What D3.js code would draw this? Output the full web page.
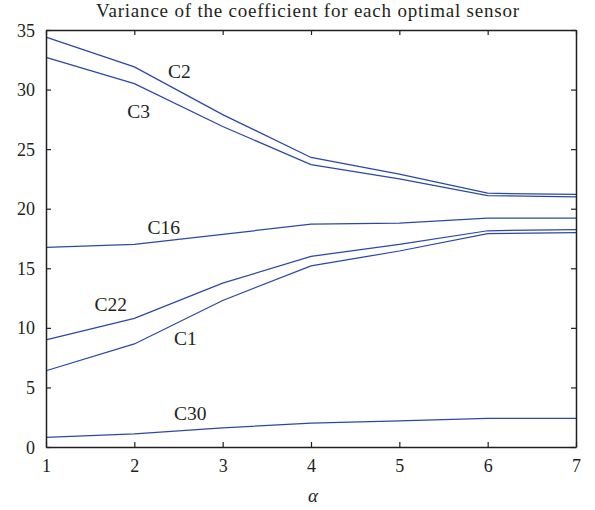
<!DOCTYPE html>
<html><head><meta charset="utf-8">
<script src="https://cdn.jsdelivr.net/npm/d3@7"></script>
<style>body{margin:0;background:#fff}svg{display:block}</style>
</head><body>
<svg id="chart" width="595" height="510"></svg>
<script>
const alphas = [1, 2, 3, 4, 5, 6, 7];
const C2  = [34.4, 31.9, 27.9, 24.3, 22.9, 21.3, 21.2];
const C3  = [32.7, 30.5, 26.9, 23.7, 22.5, 21.1, 21.0];
const C16 = [16.75, 17.0, 17.85, 18.7, 18.8, 19.2, 19.2];
const C22 = [9.0, 10.8, 13.75, 16.0, 17.0, 18.15, 18.25];
const C1  = [6.4, 8.65, 12.3, 15.2, 16.45, 17.9, 18.0];
const C30 = [0.8, 1.1, 1.6, 2.0, 2.2, 2.4, 2.4];
const seriesNames = ["C2", "C3", "C16", "C22", "C1", "C30"];
const seriesVals = [C2, C3, C16, C22, C1, C30];
const xTicks = [1, 2, 3, 4, 5, 6, 7];
const yTicks = [0, 5, 10, 15, 20, 25, 30, 35];
const title = "Variance of the coefficient for each optimal sensor";
const xLabel = "α";
// label anchor positions in data coordinates
const labelPos = {C2: [2.38, 31.0], C3: [1.92, 27.6], C16: [2.15, 17.9], C22: [1.55, 11.4], C1: [2.45, 8.6], C30: [2.45, 2.3]};

const svg = d3.select("#chart");
const m = {l: 46, r: 19, t: 30, b: 63};
const W = 595, H = 510;
const x = d3.scaleLinear().domain([1, 7]).range([m.l, W - m.r]);
const y = d3.scaleLinear().domain([0, 35]).range([H - m.b, m.t]);
const font = "\"Liberation Serif\", \"Times New Roman\", serif";
const ink = "#231f20";
const blue = "#2b48a6";

const line = d3.line().x((d, i) => x(alphas[i])).y(d => y(d));
seriesVals.forEach(v => {
  svg.append("path").attr("d", line(v)).attr("fill", "none")
    .attr("stroke", blue).attr("stroke-width", 1.25);
});

const tl = 5;
const gx = svg.append("g").attr("transform", `translate(0,${H - m.b})`)
  .call(d3.axisBottom(x).tickValues(xTicks).tickFormat(d3.format("d")).tickSizeInner(-tl).tickSizeOuter(0).tickPadding(12));
const gxt = svg.append("g").attr("transform", `translate(0,${m.t})`)
  .call(d3.axisTop(x).tickValues(xTicks).tickFormat("").tickSizeInner(-tl).tickSizeOuter(0));
const gy = svg.append("g").attr("transform", `translate(${m.l},0)`)
  .call(d3.axisLeft(y).tickValues(yTicks).tickSizeInner(-tl).tickSizeOuter(0).tickPadding(11));
const gyr = svg.append("g").attr("transform", `translate(${W - m.r},0)`)
  .call(d3.axisRight(y).tickValues(yTicks).tickFormat("").tickSizeInner(-tl).tickSizeOuter(0));
[gx, gxt, gy, gyr].forEach(g => {
  g.attr("font-family", null).attr("font-size", null);
  g.selectAll("path.domain").attr("stroke", ink).attr("stroke-width", 1.5);
  g.selectAll(".tick line").attr("stroke", ink).attr("stroke-width", 1.2);
  g.selectAll("text").style("font-family", font).style("font-size", "18px").attr("fill", ink);
});
gy.selectAll("text").attr("dy", "0.34em");

svg.append("text").attr("x", 308).attr("y", 17)
  .attr("text-anchor", "middle").style("font-family", font).style("font-size", "19px")
  .style("letter-spacing", "0.8px").attr("fill", ink).text(title);
svg.append("text").attr("x", x(4) + 2).attr("y", 502)
  .attr("text-anchor", "middle").style("font-family", font).style("font-style", "italic")
  .style("font-size", "19px").attr("fill", ink).text(xLabel);

seriesNames.forEach(n => {
  const p = labelPos[n];
  svg.append("text").attr("x", x(p[0])).attr("y", y(p[1]))
    .style("font-family", font).style("font-size", "19.5px").attr("fill", ink).text(n);
});
</script>
</body></html>
